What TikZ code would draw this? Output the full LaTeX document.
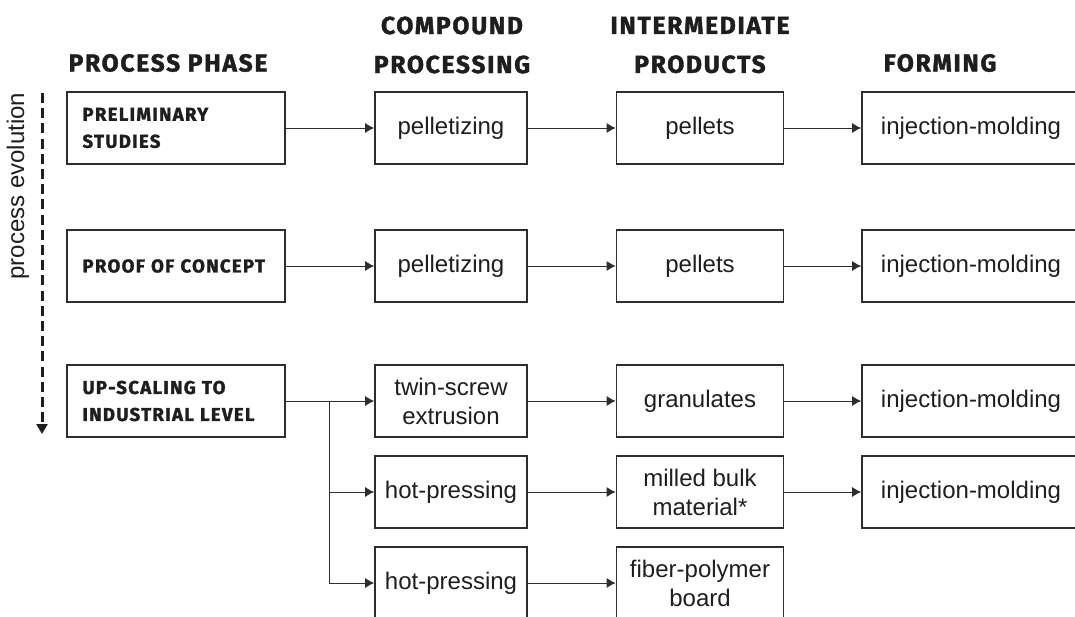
\documentclass[tikz,border=0pt]{standalone}
\usepackage{fontspec}
\setmainfont{Liberation Sans}
\newfontfamily\headfont{Fira Sans}[LetterSpace=7.0,FakeBold=1.6]
\usepackage{xcolor}
\definecolor{ink}{HTML}{1E1E1E}
\definecolor{edge}{HTML}{2E2E2E}
\usetikzlibrary{arrows.meta}

\begin{document}
\begin{tikzpicture}[x=0.5pt,y=-0.5pt,
    box/.style={draw=edge,line width=.8pt,minimum height=36pt,inner sep=2pt,
      font=\fontsize{12}{14.5}\selectfont,text=ink,align=center},
    phasebox/.style={box,minimum width=109pt,text width=93.5pt,inner xsep=7.75pt,
      align=left,font=\headfont\bfseries\fontsize{9.3}{13.5}\selectfont},
    compbox/.style={box,minimum width=76pt},
    interbox/.style={box,minimum width=83.5pt},
    formbox/.style={box,minimum width=109pt},
    head/.style={font=\headfont\bfseries\fontsize{12.3}{19.5}\selectfont,
      text=ink,align=center},
    flow/.style={draw=edge,line width=.5pt,-{Latex[length=4.5pt,width=5pt]}},
    evo/.style={draw=ink,line width=1.5pt,dash pattern=on 5pt off 2.6pt,
      -{Triangle[length=5pt,width=5.5pt]}}]
    \useasboundingbox (0,0) rectangle (1075,616);
    \clip (0,0) rectangle (1075,616);
    % column heads
    \node[head] (hPhase) at (168,63) {PROCESS PHASE};
    \node[head] (hComp) at (452,45) {COMPOUND\\PROCESSING};
    \node[head] (hInter) at (700,45) {INTERMEDIATE\\PRODUCTS};
    \node[head] (hForm) at (940,63) {FORMING};
    % time axis
    \coordinate (evoTop) at (42,93);
    \coordinate (evoEnd) at (42,434);
    \draw[evo] (evoTop) -- (evoEnd);
    \node[rotate=90,font=\fontsize{12}{14.5}\selectfont,text=ink] (evoLabel)
      at (18,186) {process evolution};
    % phases
    \node[phasebox] (prelim) at (176,128) {PRELIMINARY\\STUDIES};
    \node[phasebox] (proof) at (176,266) {PROOF OF CONCEPT};
    \node[phasebox] (upscale) at (176,401) {UP-SCALING TO\\INDUSTRIAL LEVEL};
    % compound processing
    \node[compbox] (pelA) at (451,128) {pelletizing};
    \node[compbox] (pelB) at (451,266) {pelletizing};
    \node[compbox] (twin) at (451,401) {twin-screw\\extrusion};
    \node[compbox] (hotA) at (451,492) {hot-pressing};
    \node[compbox] (hotB) at (451,583) {hot-pressing};
    % intermediate products
    \node[interbox] (pelletsA) at (700,128) {pellets};
    \node[interbox] (pelletsB) at (700,266) {pellets};
    \node[interbox] (gran) at (700,401) {granulates};
    \node[interbox] (milled) at (700,492) {milled bulk\\material*};
    \node[interbox] (board) at (700,583) {fiber-polymer\\board};
    % forming
    \node[formbox] (injA) at (971,128) {injection-molding};
    \node[formbox] (injB) at (971,266) {injection-molding};
    \node[formbox] (injC) at (971,401) {injection-molding};
    \node[formbox] (injD) at (971,492) {injection-molding};
    % connectors
    \draw[flow] (prelim.east) -- (pelA.west);
    \draw[flow] (pelA.east) -- (pelletsA.west);
    \draw[flow] (pelletsA.east) -- (injA.west);
    \draw[flow] (proof.east) -- (pelB.west);
    \draw[flow] (pelB.east) -- (pelletsB.west);
    \draw[flow] (pelletsB.east) -- (injB.west);
    \coordinate (split) at ([xshift=22pt]upscale.east);
    \draw[flow] (upscale.east) -- (twin.west);
    \draw[flow] (split) |- (hotA.west);
    \draw[flow] (split) |- (hotB.west);
    \draw[flow] (twin.east) -- (gran.west);
    \draw[flow] (gran.east) -- (injC.west);
    \draw[flow] (hotA.east) -- (milled.west);
    \draw[flow] (milled.east) -- (injD.west);
    \draw[flow] (hotB.east) -- (board.west);
  \end{tikzpicture}
\end{document}
